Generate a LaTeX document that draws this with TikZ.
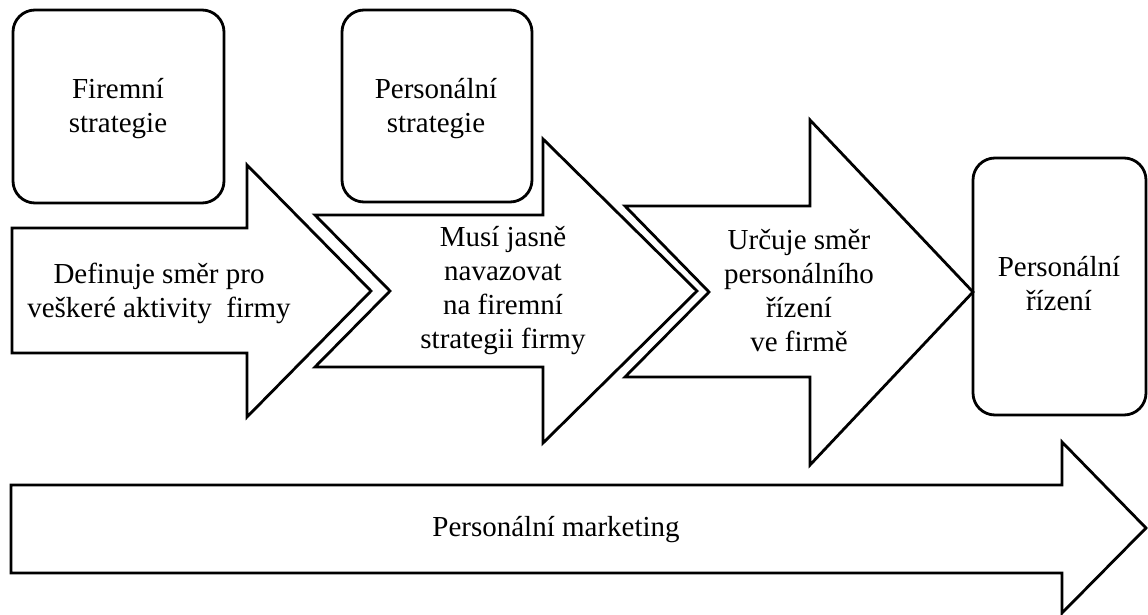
\documentclass[tikz,border=0pt]{standalone}
\usepackage{fontspec}
\setmainfont{Liberation Serif}
\begin{document}
\begin{tikzpicture}[x=1pt,y=-1pt,
  shapeline/.style={draw=black,line width=2.8pt,fill=white,line join=miter},
  roundbox/.style={shapeline,rounded corners=22pt},
  label/.style={align=center,inner sep=0pt,font=\fontsize{29}{34}\selectfont}]
\useasboundingbox (0,0) rectangle (1148,615);

% rounded boxes
\draw[roundbox] (13,10) rectangle (224,203);
\draw[roundbox] (342,10) rectangle (532,202);
\draw[roundbox] (973,158) rectangle (1146,415);

% first block arrow
\draw[shapeline] (12,228) -- (247,228) -- (247,165) -- (371,291)
  -- (247,417) -- (247,353) -- (12,353) -- cycle;
% notched arrows
\draw[shapeline] (315,215) -- (543,215) -- (543,139) -- (697,291)
  -- (543,443) -- (543,367) -- (315,367) -- (390,291) -- cycle;
\draw[shapeline] (625,206) -- (810,206) -- (810,120) -- (973,292)
  -- (810,465) -- (810,377) -- (625,377) -- (709,292) -- cycle;
% long bottom arrow
\draw[shapeline] (11,485) -- (1062,485) -- (1062,442) -- (1146,528)
  -- (1062,613) -- (1062,573) -- (11,573) -- cycle;

% texts
\node[label] (firm) at (118,109) {Firemní\\strategie};
\node[label] (pers) at (436,109) {Personální\\strategie};
\node[label] (rizeni) at (1059,284) {Personální\\řízení};
\node[label] (def) at (159,293) {Definuje směr pro\\veškeré aktivity\ \ firmy};
\node[label] (musi) at (503,291) {Musí jasně\\navazovat\\na firemní\\strategii firmy};
\node[label] (urcuje) at (799,291) {Určuje směr\\personálního\\řízení\\ve firmě};
\node[label] (mkt) at (556,530) {Personální marketing};
\end{tikzpicture}
\end{document}
